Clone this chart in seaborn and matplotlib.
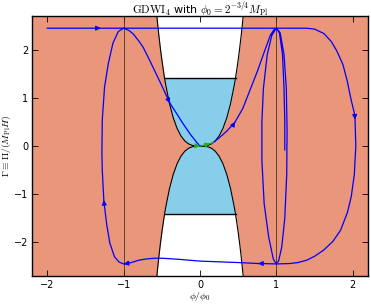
import numpy as np
import pandas as pd
import matplotlib
matplotlib.use("Agg")
import matplotlib.pyplot as plt
import seaborn as sns

# ---------------- data ----------------
# boundary curve |Gamma| = g(phi) (right half; mirrored for the left half)
bnd_phi = [0.0, 0.10, 0.15, 0.20, 0.25, 0.30, 0.35, 0.40, 0.45, 0.465, 0.50, 0.52, 0.54, 0.55, 0.56, 0.565]
bnd_gam = [0.0, 0.013, 0.045, 0.108, 0.211, 0.366, 0.586, 0.884, 1.279, 1.414, 1.794, 2.041, 2.315, 2.464, 2.621, 2.70]
eps_end = 1.414          # Gamma = sqrt(2)
vlines_phi = [-1.0, 1.0]

# trajectory 1 (long outer trajectory)
t1_phi = [-2.0, -1.40, -1.30, 1.40, 1.50, 1.62, 1.72, 1.79, 1.87, 1.925, 1.98, 2.025, 2.03, 2.04, 2.02, 1.98, 1.93,
          1.84, 1.74, 1.62, 1.50, 1.40, 1.28, 1.18, 1.0, 0.80, 0.76, 0.5, 0.25, 0.0, -0.3, -0.5, -0.6, -0.7, -0.8,
          -0.9, -0.96, -1.0, -1.06, -1.12, -1.18, -1.22, -1.255, -1.26, -1.28, -1.285, -1.28, -1.25, -1.20, -1.14,
          -1.07, -1.0, -0.93, -0.875, -0.80, -0.744, -0.656, -0.52, -0.40, -0.394, -0.30, -0.22, -0.12, -0.04, 0.0]
t1_gam = [2.449, 2.449, 2.449, 2.449, 2.43, 2.34, 2.17, 1.98, 1.70, 1.37, 0.95, 0.66, 0.55, 0.0, -0.6, -1.05, -1.38,
          -1.75, -1.98, -2.16, -2.29, -2.37, -2.42, -2.44, -2.449, -2.44, -2.44, -2.42, -2.405, -2.39, -2.35, -2.33,
          -2.33, -2.345, -2.37, -2.42, -2.44, -2.449, -2.41, -2.30, -2.02, -1.65, -1.20, -1.12, -0.5, -0.15, 0.54,
          1.23, 1.72, 2.14, 2.38, 2.449, 2.40, 2.33, 2.18, 2.05, 1.77, 1.32, 0.91, 0.89, 0.66, 0.46, 0.23, 0.07, 0.0]
t1_arrows = [2, 12, 26, 37, 43, 59]   # indices of arrow heads

# trajectory 2 (from the origin towards the minimum at phi0, oscillating)
t2_phi = [0.175, 0.25, 0.35, 0.45, 0.46, 0.56, 0.656, 0.75, 0.84, 0.92, 0.97, 1.0, 1.05, 1.10, 1.13, 1.14, 1.135,
          1.11, 1.07, 1.03, 1.0, 0.96, 0.90, 0.84, 0.81, 0.81, 0.83, 0.88, 0.94, 1.0, 1.04, 1.08, 1.10, 1.11, 1.11]
t2_gam = [0.077, 0.17, 0.31, 0.48, 0.505, 0.78, 1.17, 1.55, 1.95, 2.30, 2.42, 2.449, 2.35, 1.90, 1.20, 0.30, -0.60,
          -1.50, -2.10, -2.38, -2.449, -2.35, -1.90, -1.20, -0.30, 0.50, 1.20, 1.90, 2.30, 2.449, 2.35, 1.90, 1.20,
          0.50, -0.08]
t2_arrows = [4]

# short green trajectory at the origin
t3_phi = [-0.066, 0.0, 0.06, 0.13, 0.175]
t3_gam = [0.006, 0.0, 0.02, 0.05, 0.077]
t3_arrows = [1, 3]

# ---------------- styling ----------------
plt.rcParams["mathtext.fontset"] = "cm"
plt.rcParams["font.family"] = ["DejaVu Sans"]

ORANGE = "#E9967A"
SKY = "#87CEEB"

fig, ax = plt.subplots(figsize=(3.71, 3.04), dpi=100)
fig.subplots_adjust(left=0.0863, right=0.992, bottom=0.092, top=0.947)
ax.set_facecolor(ORANGE)

# regions
bp = np.array(bnd_phi)
bg = np.array(bnd_gam)
phi_full = np.concatenate([-bp[::-1], bp[1:]])
g_full = np.concatenate([bg[::-1], bg[1:]])
top = 2.7
ax.fill_between(phi_full, g_full, top, color="white", lw=0, zorder=1)
ax.fill_between(phi_full, -g_full, -top, color="white", lw=0, zorder=1)
mask = g_full <= eps_end + 1e-9
ax.fill_between(phi_full[mask], g_full[mask], eps_end, color=SKY, lw=0, zorder=1)
ax.fill_between(phi_full[mask], -g_full[mask], -eps_end, color=SKY, lw=0, zorder=1)

ax.plot(phi_full, g_full, color="k", lw=0.8, zorder=2)
ax.plot(phi_full, -g_full, color="k", lw=0.8, zorder=2)
edge = phi_full[mask]
ax.plot([edge.min(), edge.max()], [eps_end, eps_end], color="k", lw=1.0, zorder=2)
ax.plot([edge.min(), edge.max()], [-eps_end, -eps_end], color="k", lw=1.0, zorder=2)
for v in vlines_phi:
    ax.axvline(v, color="#3a2a20", lw=0.7, alpha=0.8, zorder=2)


def traj(phis, gams, arrows, color):
    df = pd.DataFrame({"phi": phis, "gam": gams})
    sns.lineplot(data=df, x="phi", y="gam", sort=False, estimator=None, color=color,
                 lw=0.9, ax=ax, zorder=3)
    for i in arrows:
        x0, y0 = phis[i - 1], gams[i - 1]
        x1, y1 = phis[i], gams[i]
        ax.annotate("", xy=(x1, y1), xytext=(x0 + 0.5 * (x1 - x0), y0 + 0.5 * (y1 - y0)),
                    arrowprops=dict(arrowstyle="-|>", color=color, lw=0.8, mutation_scale=7,
                                    shrinkA=0, shrinkB=0), zorder=4)


traj(t1_phi, t1_gam, t1_arrows, "#0000ff")
traj(t2_phi, t2_gam, t2_arrows, "#0000ff")
traj(t3_phi, t3_gam, t3_arrows, "#22aa22")

ax.set_xlim(-2.2, 2.2)
ax.set_ylim(-2.7, 2.7)
ax.set_xticks([-2, -1, 0, 1, 2])
ax.set_yticks([-2, -1, 0, 1, 2])
ax.tick_params(direction="in", top=True, right=True, length=4, width=0.6, labelsize=7, pad=2.5)
for s in ax.spines.values():
    s.set_linewidth(1.0)
    s.set_color("k")
    s.set_zorder(5)

ax.set_xlabel(r"$\phi/\phi_0$", fontsize=7, labelpad=0.5)
ax.set_ylabel(r"$\Gamma\equiv\Pi/(M_{\rm Pl}H)$", fontsize=7, labelpad=0.5)
ax.set_title(r"$\mathrm{GDWI}_4$ with $\phi_0=2^{-3/4}M_{\rm Pl}$", fontsize=8, pad=2)
fig.savefig("out.png", dpi=100)
